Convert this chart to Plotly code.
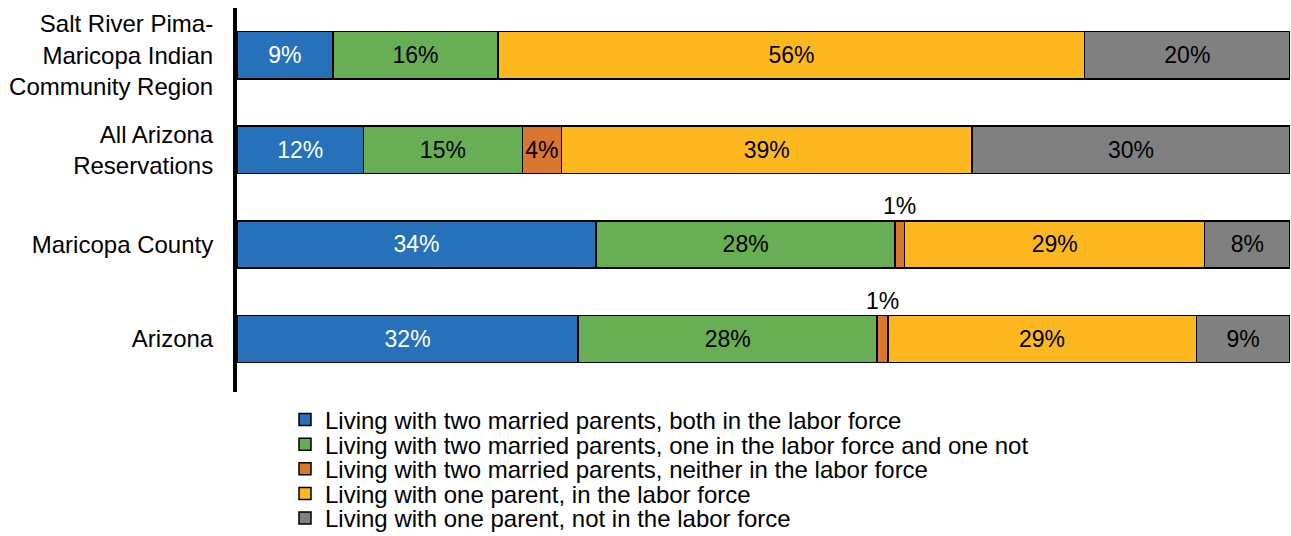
import plotly.graph_objects as go

categories = ["Salt River Pima-<br>Maricopa Indian<br>Community Region",
              "All Arizona<br>Reservations", "Maricopa County", "Arizona"]
series_names = [
    "Living with two married parents, both in the labor force",
    "Living with two married parents, one in the labor force and one not",
    "Living with two married parents, neither in the labor force",
    "Living with one parent, in the labor force",
    "Living with one parent, not in the labor force",
]
# values per series, in category order
both_in = [9.1, 12.0, 34.1, 32.4]
one_in = [15.7, 15.1, 28.4, 28.4]
neither_in = [0.0, 3.7, 0.9, 1.0]
single_in = [55.7, 39.0, 28.5, 29.3]
single_out = [19.5, 30.2, 8.1, 8.9]
# displayed labels
both_in_lbl = ["9%", "12%", "34%", "32%"]
one_in_lbl = ["16%", "15%", "28%", "28%"]
neither_in_lbl = ["", "4%", "1%", "1%"]
single_in_lbl = ["56%", "39%", "29%", "29%"]
single_out_lbl = ["20%", "30%", "8%", "9%"]

colors = ["#2771bb", "#67ae54", "#d97630", "#fdb71f", "#808080"]
text_colors = ["white", "black", "black", "black", "black"]

series_vals = [both_in, one_in, neither_in, single_in, single_out]
series_lbls = [both_in_lbl, one_in_lbl, neither_in_lbl, single_in_lbl, single_out_lbl]

FONT = "Liberation Sans, Arial, sans-serif"
W, H = 1291, 536
legend_names = ["legend", "legend2", "legend3", "legend4", "legend5"]

fig = go.Figure()
for i, (name, vals, lbls) in enumerate(zip(series_names, series_vals, series_lbls)):
    inside = [l if v >= 2 else "" for v, l in zip(vals, lbls)]
    fig.add_trace(go.Bar(
        y=categories, x=vals, name=name, orientation="h",
        marker=dict(color=colors[i], line=dict(color="black", width=1.5)),
        text=inside, textposition="inside", insidetextanchor="middle",
        textangle=0, constraintext="none",
        textfont=dict(family=FONT, size=23, color=text_colors[i]),
        hoverinfo="skip", legend=legend_names[i],
    ))

# small segments labelled above the bar
annotations = []
for j, cat in enumerate(categories):
    v = neither_in[j]
    if 0 < v < 2:
        start = both_in[j] + one_in[j]
        annotations.append(dict(
            x=start + v / 2, y=cat, xref="x", yref="y", text=neither_in_lbl[j],
            showarrow=False, yshift=38,
            font=dict(family=FONT, size=23, color="black"),
        ))

legend_layout = {}
for i, ln in enumerate(legend_names):
    legend_layout[ln] = dict(
        xref="container", yref="container",
        x=285 / W, xanchor="left",
        y=1 - (420 + 24.6 * i) / H, yanchor="middle",
        font=dict(family=FONT, size=24, color="black"),
        itemclick=False, itemdoubleclick=False,
        bgcolor="rgba(0,0,0,0)", borderwidth=0,
    )

fig.update_layout(
    barmode="stack", bargap=0.5,
    width=W, height=H,
    margin=dict(l=237, r=1, t=8, b=144, autoexpand=False),
    paper_bgcolor="white", plot_bgcolor="white",
    font=dict(family=FONT, size=24, color="black"),
    showlegend=True,
    annotations=annotations,
    xaxis=dict(range=[0, 100], visible=False, fixedrange=True),
    yaxis=dict(
        autorange="reversed", showline=True, linecolor="black", linewidth=4,
        showgrid=False, zeroline=False, ticks="", ticklabelstandoff=15,
        tickfont=dict(family=FONT, size=24, color="black"), automargin=False,
        fixedrange=True,
    ),
    **legend_layout,
)

fig.write_html(
    "out.html",
    config={"displayModeBar": False, "responsive": False},
    post_script="document.body.style.margin='0';"
                "document.documentElement.style.overflow='hidden';"
                "document.body.style.overflow='hidden';",
)
